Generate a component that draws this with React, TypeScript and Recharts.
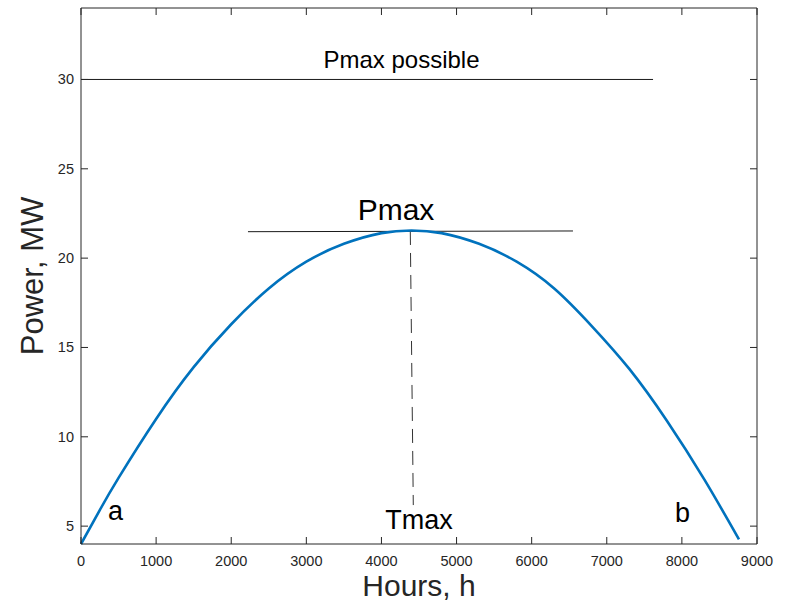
import React from "react";
import { LineChart, Line, XAxis, YAxis, ReferenceLine, ReferenceDot } from "recharts";

// curve
const hours = [0, 250, 500, 1000, 1500, 2000, 2500, 3000, 3500, 4000, 4400, 4800, 5300, 5800, 6300, 6800, 7300, 7800, 8300, 8760];
const power = [4.0, 5.9, 7.7, 11.0, 13.9, 16.3, 18.3, 19.8, 20.8, 21.4, 21.55, 21.4, 20.8, 19.8, 18.3, 16.2, 13.8, 10.9, 7.6, 4.26];

const xTicks = [0, 1000, 2000, 3000, 4000, 5000, 6000, 7000, 8000, 9000];
const yTicks = [5, 10, 15, 20, 25, 30];

const pmaxPossibleSeg = [{ x: 0, y: 30 }, { x: 7616, y: 30 }];
const pmaxSeg = [{ x: 2223, y: 21.48 }, { x: 6550, y: 21.52 }];
const tmaxSeg = [{ x: 4384, y: 21.52 }, { x: 4424, y: 6.18 }];

const notes = [
  { text: "Pmax possible", x: 4267, y: 30.64, size: 24 },
  { text: "Pmax", x: 4194, y: 22.13, size: 30 },
  { text: "Tmax", x: 4500, y: 4.84, size: 27 },
  { text: "a", x: 459, y: 5.34, size: 27 },
  { text: "b", x: 8010, y: 5.23, size: 27 },
];

const data = hours.map((h, i) => ({ hours: h, power: power[i] }));

const FONT = '"Liberation Sans", Arial, Helvetica, sans-serif';
const AXIS = "#262626";
const PLOT_W = 676;
const PLOT_H = 536;

// ticks point inward on all four sides, like the box of the original plot
function BottomTick({ x, y, payload }: any) {
  return (
    <g>
      <line x1={x} y1={y} x2={x} y2={y - 7} stroke={AXIS} />
      <line x1={x} y1={y - PLOT_H} x2={x} y2={y - PLOT_H + 7} stroke={AXIS} />
      <text x={x} y={y + 22} textAnchor="middle" fontSize={14.5} fill={AXIS} fontFamily={FONT}>
        {payload.value}
      </text>
    </g>
  );
}

function LeftTick({ x, y, payload }: any) {
  return (
    <g>
      <line x1={x} y1={y} x2={x + 7} y2={y} stroke={AXIS} />
      <line x1={x + PLOT_W} y1={y} x2={x + PLOT_W - 7} y2={y} stroke={AXIS} />
      <text x={x - 7} y={y + 5} textAnchor="end" fontSize={14.5} fill={AXIS} fontFamily={FONT}>
        {payload.value}
      </text>
    </g>
  );
}

function XTitle({ viewBox }: any) {
  const { x, y, width } = viewBox;
  return (
    <text x={x + width / 2} y={y + 52} textAnchor="middle" fontSize={30} fill={AXIS} fontFamily={FONT}>
      Hours, h
    </text>
  );
}

function YTitle({ viewBox }: any) {
  const { x, y, height } = viewBox;
  const cx = x + 43;
  const cy = y + height / 2;
  return (
    <text
      x={cx}
      y={cy}
      transform={`rotate(-90 ${cx} ${cy})`}
      textAnchor="middle"
      fontSize={31}
      fill={AXIS}
      fontFamily={FONT}
    >
      Power, MW
    </text>
  );
}

function noteLabel(text: string, size: number) {
  return ({ viewBox }: any) => (
    <text x={viewBox.x} y={viewBox.y} textAnchor="middle" fontSize={size} fill="#000" fontFamily={FONT}>
      {text}
    </text>
  );
}

export default function App() {
  return (
    <div style={{ position: "absolute", left: 0, top: 0, width: 787, height: 602, background: "#fff" }}>
      <LineChart width={787} height={602} data={data} margin={{ top: 0, right: 0, bottom: 0, left: 0 }}>
        <XAxis
          dataKey="hours"
          type="number"
          domain={[0, 9000]}
          ticks={xTicks}
          height={58}
          tickSize={0}
          tickMargin={0}
          tickLine={false}
          axisLine={{ stroke: AXIS }}
          tick={<BottomTick />}
          label={{ content: <XTitle /> }}
        />
        <XAxis
          xAxisId="top"
          orientation="top"
          type="number"
          domain={[0, 9000]}
          height={8}
          tickLine={false}
          axisLine={{ stroke: AXIS }}
          tick={false}
        />
        <YAxis
          type="number"
          domain={[4, 34]}
          ticks={yTicks}
          width={81}
          tickSize={0}
          tickMargin={0}
          tickLine={false}
          axisLine={{ stroke: AXIS }}
          tick={<LeftTick />}
          label={{ content: <YTitle /> }}
        />
        <YAxis
          yAxisId="right"
          orientation="right"
          type="number"
          domain={[4, 34]}
          width={30}
          tickLine={false}
          axisLine={{ stroke: AXIS }}
          tick={false}
        />
        <ReferenceLine segment={pmaxPossibleSeg} stroke="#1a1a1a" strokeWidth={1} ifOverflow="visible" />
        <ReferenceLine segment={pmaxSeg} stroke="#1a1a1a" strokeWidth={1} ifOverflow="visible" />
        <ReferenceLine segment={tmaxSeg} stroke="#333" strokeWidth={1} strokeDasharray="14 8" ifOverflow="visible" />
        <Line
          type="natural"
          dataKey="power"
          stroke="#0072BD"
          strokeWidth={2.6}
          dot={false}
          isAnimationActive={false}
        />
        {notes.map((n) => (
          <ReferenceDot
            key={n.text}
            x={n.x}
            y={n.y}
            r={0}
            fill="none"
            stroke="none"
            ifOverflow="visible"
            label={{ content: noteLabel(n.text, n.size) }}
          />
        ))}
      </LineChart>
    </div>
  );
}
